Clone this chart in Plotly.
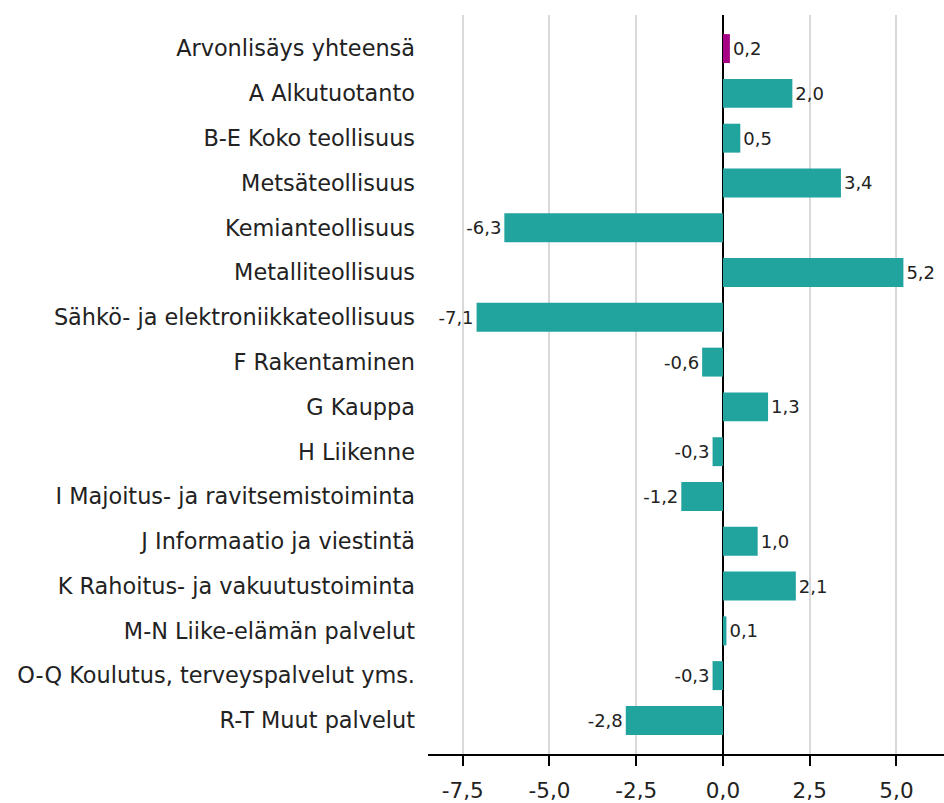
import plotly.graph_objects as go

categories = ["Arvonlisäys yhteensä", "A Alkutuotanto", "B-E Koko teollisuus", "Metsäteollisuus",
              "Kemianteollisuus", "Metalliteollisuus", "Sähkö- ja elektroniikkateollisuus",
              "F Rakentaminen", "G Kauppa", "H Liikenne", "I Majoitus- ja ravitsemistoiminta",
              "J Informaatio ja viestintä", "K Rahoitus- ja vakuutustoiminta",
              "M-N Liike-elämän palvelut", "O-Q Koulutus, terveyspalvelut yms.", "R-T Muut palvelut"]
values = [0.2, 2.0, 0.5, 3.4, -6.3, 5.2, -7.1, -0.6, 1.3, -0.3, -1.2, 1.0, 2.1, 0.1, -0.3, -2.8]
tick_vals = [-7.5, -5.0, -2.5, 0.0, 2.5, 5.0]
tick_text = ["-7,5", "-5,0", "-2,5", "0,0", "2,5", "5,0"]

teal = "rgb(33,163,158)"
magenta = "rgb(166,0,132)"
colors = [magenta] + [teal] * (len(values) - 1)
labels = [f"{v:.1f}".replace(".", ",") for v in values]

font = "DejaVu Sans"
fig = go.Figure(go.Bar(
    y=categories, x=values, orientation="h",
    marker=dict(color=colors, line=dict(width=0)),
    width=0.646,
    text=labels, textposition="outside", cliponaxis=False,
    textfont=dict(family=font, size=18, color="#222"),
))
fig.update_layout(
    width=944, height=803,
    margin=dict(l=428, r=0, t=15, b=47),
    plot_bgcolor="white", paper_bgcolor="white",
    showlegend=False,
    font=dict(family=font, size=22, color="#222"),
    xaxis=dict(range=[-8.5, 6.37], tickvals=tick_vals, ticktext=tick_text,
               showgrid=True, gridcolor="#d9d9d9", gridwidth=2,
               zeroline=True, zerolinecolor="black", zerolinewidth=2,
               showline=True, linecolor="black", linewidth=2,
               ticks="outside", ticklen=10, tickcolor="black", tickwidth=2,
               ticklabelstandoff=6,
               tickfont=dict(size=21.5)),
    yaxis=dict(range=[15.75, -0.75], showgrid=False, ticks="", ticklabelstandoff=12,
               tickfont=dict(size=22.4)),
)
fig.write_html("out.html", post_script="document.body.style.margin='0';",
               config={"displayModeBar": False})
